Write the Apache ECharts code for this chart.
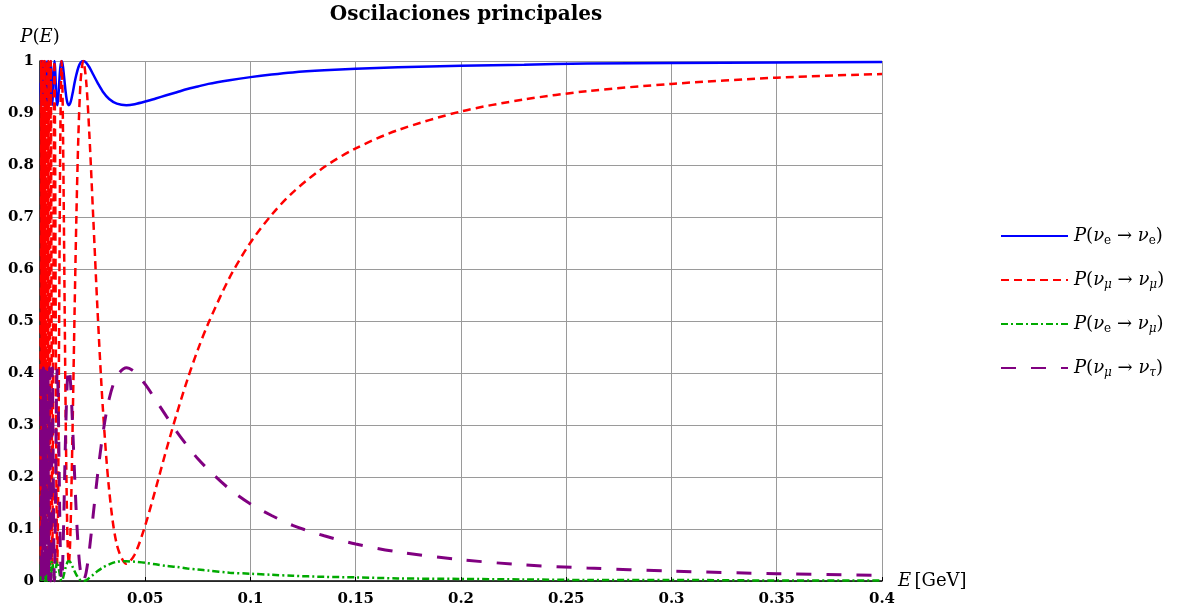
<!DOCTYPE html>
<html>
<head>
<meta charset="utf-8">
<script src="https://cdn.jsdelivr.net/npm/echarts@6/dist/echarts.min.js"></script>
<style>html,body{margin:0;padding:0;background:#fff;}#c{width:1184px;height:615px;}</style>
</head>
<body>
<div id="c"></div>
<script>
// Energy values E [GeV]
const energy = [0.0003, 0.0004, 0.0006, 0.0008, 0.001, 0.0012, 0.0014, 0.0016, 0.0018, 0.002, 0.0022, 0.0024, 0.0026, 0.0028, 0.003, 0.0032,
  0.003422, 0.00357, 0.003733, 0.00391, 0.004106, 0.004322, 0.004562, 0.004831, 0.005133, 0.005475, 0.005866, 0.006317, 0.006843,
  0.007141, 0.007465, 0.007821, 0.008212, 0.008644, 0.009124, 0.009661, 0.010265,
  0.010596, 0.010949, 0.011327, 0.011731, 0.012166, 0.012634, 0.013139, 0.013687, 0.014282, 0.014931, 0.015642, 0.016424, 0.017288, 0.018249, 0.019322, 0.02053, 0.021899, 0.023463, 0.025268, 0.027373, 0.029862, 0.032848, 0.036498, 0.04106,
  0.045, 0.05, 0.055, 0.06, 0.065, 0.07, 0.075, 0.08, 0.09, 0.1, 0.11, 0.12, 0.135, 0.15, 0.17, 0.2, 0.23, 0.26, 0.3, 0.35, 0.4];

// P(nu_e -> nu_e)
const pEE = [0.958, 0.915, 1, 0.915, 0.992, 0.919, 1, 0.915, 0.987, 0.924, 1, 0.915, 0.996, 0.919, 0.992, 0.932,
  1, 0.958, 0.915, 0.958, 1, 0.958, 0.915, 0.958, 1, 0.958, 0.915, 0.958, 1,
  0.988, 0.958, 0.927, 0.915, 0.927, 0.958, 0.988, 1,
  0.997, 0.988, 0.974, 0.958, 0.941, 0.927, 0.918, 0.915, 0.918, 0.927, 0.941, 0.958, 0.974, 0.988, 0.997, 1, 0.997, 0.988, 0.974, 0.958, 0.941, 0.927, 0.918, 0.915,
  0.917, 0.922, 0.928, 0.934, 0.940, 0.946, 0.951, 0.956, 0.963, 0.969, 0.974, 0.978, 0.982, 0.985, 0.988, 0.991, 0.993, 0.995, 0.996, 0.997, 0.998];

// P(nu_mu -> nu_mu)
const pMM = [0.517, 0.033, 1, 0.033, 0.903, 0.081, 1, 0.033, 0.855, 0.130, 1, 0.033, 0.952, 0.081, 0.903, 0.226,
  1, 0.517, 0.033, 0.517, 1, 0.517, 0.033, 0.517, 1, 0.517, 0.033, 0.517, 1,
  0.858, 0.517, 0.175, 0.033, 0.175, 0.517, 0.858, 1,
  0.963, 0.858, 0.701, 0.517, 0.332, 0.175, 0.070, 0.033, 0.070, 0.175, 0.332, 0.517, 0.701, 0.858, 0.963, 1, 0.963, 0.858, 0.701, 0.517, 0.332, 0.175, 0.070, 0.033,
  0.051, 0.107, 0.178, 0.252, 0.322, 0.387, 0.445, 0.496, 0.583, 0.651, 0.704, 0.747, 0.796, 0.832, 0.867, 0.903, 0.926, 0.942, 0.956, 0.968, 0.975];

// P(nu_e -> nu_mu)
const pEM = [0.019, 0.038, 0, 0.038, 0.004, 0.036, 0, 0.038, 0.006, 0.034, 0, 0.038, 0.002, 0.036, 0.004, 0.030,
  0, 0.019, 0.038, 0.019, 0, 0.019, 0.038, 0.019, 0, 0.019, 0.038, 0.019, 0,
  0.006, 0.019, 0.032, 0.038, 0.032, 0.019, 0.006, 0,
  0.001, 0.006, 0.012, 0.019, 0.026, 0.032, 0.037, 0.038, 0.037, 0.032, 0.026, 0.019, 0.012, 0.006, 0.001, 0, 0.001, 0.006, 0.012, 0.019, 0.026, 0.032, 0.037, 0.038,
  0.037, 0.035, 0.032, 0.029, 0.027, 0.024, 0.022, 0.020, 0.016, 0.014, 0.012, 0.010, 0.008, 0.007, 0.005, 0.004, 0.003, 0.002, 0.002, 0.001, 0.001];

// P(nu_mu -> nu_tau)
const pMT = [0.205, 0.41, 0, 0.41, 0.041, 0.39, 0, 0.41, 0.062, 0.369, 0, 0.41, 0.021, 0.39, 0.041, 0.328,
  0, 0.205, 0.41, 0.205, 0, 0.205, 0.41, 0.205, 0, 0.205, 0.41, 0.205, 0,
  0.060, 0.205, 0.350, 0.41, 0.350, 0.205, 0.060, 0,
  0.016, 0.060, 0.127, 0.205, 0.283, 0.350, 0.394, 0.41, 0.394, 0.350, 0.283, 0.205, 0.127, 0.060, 0.016, 0, 0.016, 0.060, 0.127, 0.205, 0.283, 0.350, 0.394, 0.41,
  0.402, 0.378, 0.348, 0.317, 0.287, 0.260, 0.235, 0.214, 0.177, 0.148, 0.126, 0.107, 0.087, 0.071, 0.056, 0.041, 0.031, 0.025, 0.019, 0.014, 0.011];

const seriesNames = ['ee', 'mm', 'em', 'mt'];
const legendLabels = {
  ee: '{i|P}{r|(}{i|ν}{s|e}{r| → }{i|ν}{s|e}{r|)}',
  mm: '{i|P}{r|(}{i|ν}{si|μ}{r| → }{i|ν}{si|μ}{r|)}',
  em: '{i|P}{r|(}{i|ν}{s|e}{r| → }{i|ν}{si|μ}{r|)}',
  mt: '{i|P}{r|(}{i|ν}{si|μ}{r| → }{i|ν}{si|τ}{r|)}'
};
const title = 'Oscilaciones principales';

function pairs(vals) { return energy.map((e, i) => [e, vals[i]]); }

const serif = 'DejaVu Serif';
const chart = echarts.init(document.getElementById('c'), null, { renderer: 'canvas' });
chart.setOption({
  animation: false,
  backgroundColor: '#fff',
  title: {
    text: title, left: 461, top: 0, textAlign: 'center',
    textStyle: { fontFamily: serif, fontWeight: 'bold', fontSize: 20, color: '#000' }
  },
  grid: { left: 40, top: 61, width: 842, height: 520, containLabel: false },
  legend: {
    orient: 'vertical', left: 995, top: 222, itemWidth: 67, itemHeight: 14, itemGap: 24,
    data: seriesNames,
    itemStyle: { opacity: 0 },
    formatter: n => legendLabels[n],
    textStyle: {
      color: '#000', padding: [0, 0, 0, 1],
      rich: {
        r: { fontFamily: serif, fontSize: 18, lineHeight: 22, color: '#000' },
        i: { fontFamily: serif, fontStyle: 'italic', fontSize: 18, lineHeight: 22, color: '#000' },
        s: { fontFamily: serif, fontSize: 12, lineHeight: 12, verticalAlign: 'bottom', color: '#000' },
        si: { fontFamily: serif, fontStyle: 'italic', fontSize: 12, lineHeight: 12, verticalAlign: 'bottom', color: '#000' }
      }
    }
  },
  xAxis: {
    type: 'value', min: 0, max: 0.4, interval: 0.05,
    name: '{i|E} {r|[GeV]}', nameLocation: 'end', nameGap: 16,
    nameTextStyle: {
      verticalAlign: 'middle',
      rich: {
        i: { fontFamily: serif, fontStyle: 'italic', fontSize: 18, color: '#000' },
        r: { fontFamily: serif, fontSize: 18, color: '#000' }
      }
    },
    axisLine: { show: true, onZero: false, lineStyle: { color: '#000', width: 1.5 } },
    axisTick: { show: true, inside: true, length: 4, lineStyle: { color: '#000' } },
    axisLabel: { showMinLabel: false, color: '#000', fontFamily: serif, fontWeight: 'bold', fontSize: 15, margin: 11 },
    splitLine: { show: true, lineStyle: { color: '#9a9a9a', width: 1 } }
  },
  yAxis: {
    type: 'value', min: 0, max: 1, interval: 0.1,
    name: '{i|P}{r|(}{i|E}{r|)}', nameLocation: 'end', nameGap: 15,
    nameTextStyle: {
      align: 'center',
      rich: {
        i: { fontFamily: serif, fontStyle: 'italic', fontSize: 18, color: '#000' },
        r: { fontFamily: serif, fontSize: 18, color: '#000' }
      }
    },
    axisLine: { show: true, onZero: false, lineStyle: { color: '#000', width: 1.5 } },
    axisTick: { show: true, inside: true, length: 4, lineStyle: { color: '#000' } },
    axisLabel: { color: '#000', fontFamily: serif, fontWeight: 'bold', fontSize: 15, margin: 6 },
    splitLine: { show: true, lineStyle: { color: '#9a9a9a', width: 1 } }
  },
  series: [
    { name: 'ee', type: 'line', data: pairs(pEE), symbol: 'none', smooth: 0.3,
      lineStyle: { color: '#0000ff', width: 2.5, type: 'solid' }, itemStyle: { color: '#0000ff' } },
    { name: 'mm', type: 'line', data: pairs(pMM), symbol: 'none', smooth: 0.3,
      lineStyle: { color: '#ff0000', width: 2.5, type: [8, 5] }, itemStyle: { color: '#ff0000' } },
    { name: 'em', type: 'line', data: pairs(pEM), symbol: 'none', smooth: 0.3,
      lineStyle: { color: '#00aa00', width: 2.5, type: [7, 3, 2, 3] }, itemStyle: { color: '#00aa00' } },
    { name: 'mt', type: 'line', data: pairs(pMT), symbol: 'none', smooth: 0.3,
      lineStyle: { color: '#800080', width: 3, type: [15, 15] }, itemStyle: { color: '#800080' } }
  ]
});
</script>
</body>
</html>
